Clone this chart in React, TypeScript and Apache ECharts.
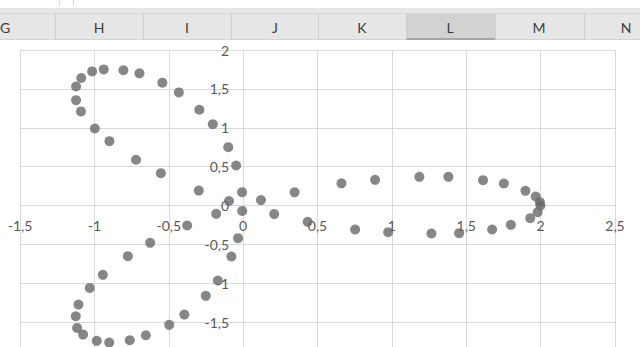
import React, { useEffect, useRef } from "react";
import * as echarts from "echarts";

// ---- data ----
const xValues = [
  -0.007, -0.047, -0.1, -0.204, -0.294, -0.432, -0.543, -0.697, -0.805, -0.937,
  -1.015, -1.088, -1.123, -1.123, -1.09, -0.997, -0.899, -0.72, -0.553, -0.298,
  -0.095, 0.12, 0.346, 0.661, 0.887, 1.185, 1.38, 1.613, 1.753, 1.898,
  1.967, 1.995, 1.999, 1.98, 1.93, 1.8, 1.674, 1.452, 1.266, 0.975,
  0.753, 0.434, 0.209, -0.006, -0.181, -0.376, -0.625, -0.775, -0.943, -1.031,
  -1.107, -1.125, -1.116, -1.076, -0.984, -0.9, -0.762, -0.654, -0.497, -0.395,
  -0.251, -0.17, -0.079, -0.034,
];
const yValues = [
  0.171, 0.515, 0.75, 1.046, 1.232, 1.454, 1.58, 1.7, 1.74, 1.75,
  1.725, 1.64, 1.53, 1.355, 1.21, 0.99, 0.827, 0.588, 0.416, 0.192,
  0.058, 0.07, 0.169, 0.285, 0.33, 0.369, 0.369, 0.326, 0.283, 0.189,
  0.116, 0.043, 0.0, -0.086, -0.163, -0.249, -0.309, -0.356, -0.36, -0.343,
  -0.309, -0.21, -0.11, -0.07, -0.107, -0.257, -0.48, -0.652, -0.892, -1.06,
  -1.274, -1.425, -1.574, -1.66, -1.741, -1.763, -1.733, -1.669, -1.535, -1.403,
  -1.162, -0.965, -0.656, -0.42,
];
const columnLetters = ["G", "H", "I", "J", "K", "L", "M", "N"];
const selectedColumn = "L";
const xAxisRange = [-1.5, 2.5];
const yAxisRange = [-2, 2];
const tickStep = 0.5;

// ---- layout (pixels) ----
const colCenters = [5, 99, 187, 275, 362, 450, 539, 626];
const colSeparators = [55, 143, 231, 318, 406, 495, 584];
const gridLeft = 20;
const gridTop = 50;
const gridWidth = 595;
const gridHeight = 311;

export default function App() {
  const ref = useRef<HTMLDivElement>(null);

  useEffect(() => {
    if (!ref.current) return;
    const chart = echarts.init(ref.current, undefined, { renderer: "svg" });

    const points = xValues.map((x, i) => [x, yValues[i]]);
    const fmt = (v: number) => String(v).replace(".", ",");

    // place each axis where the other axis crosses zero
    const xAxisOffset = -(gridHeight * (0 - yAxisRange[0])) / (yAxisRange[1] - yAxisRange[0]);
    const yAxisOffset = -(gridWidth * (0 - xAxisRange[0])) / (xAxisRange[1] - xAxisRange[0]);

    const selIdx = columnLetters.indexOf(selectedColumn);
    const selLeft = colSeparators[selIdx - 1];
    const selRight = colSeparators[selIdx];

    const graphics: any[] = [
      { type: "rect", shape: { x: 0, y: 8, width: 640, height: 31 }, style: { fill: "#e6e6e6" }, silent: true },
      { type: "line", shape: { x1: 0, y1: 13.5, x2: 640, y2: 13.5 }, style: { stroke: "#d6d6d6", lineWidth: 1 }, silent: true },
      { type: "rect", shape: { x: selLeft, y: 14, width: selRight - selLeft, height: 24 }, style: { fill: "#d2d2d2" }, silent: true },
      { type: "rect", shape: { x: selLeft, y: 38, width: selRight - selLeft, height: 2 }, style: { fill: "#a6a6a6" }, silent: true },
      { type: "line", shape: { x1: 0, y1: 39.5, x2: selLeft, y2: 39.5 }, style: { stroke: "#d4d4d4", lineWidth: 1 }, silent: true },
      { type: "line", shape: { x1: selRight, y1: 39.5, x2: 640, y2: 39.5 }, style: { stroke: "#d4d4d4", lineWidth: 1 }, silent: true },
      { type: "line", shape: { x1: 59.5, y1: 0, x2: 59.5, y2: 6 }, style: { stroke: "#dcdcdc", lineWidth: 1 }, silent: true },
      { type: "line", shape: { x1: 73.5, y1: 0, x2: 73.5, y2: 6 }, style: { stroke: "#dcdcdc", lineWidth: 1 }, silent: true },
    ];
    colSeparators.forEach((sx) => {
      graphics.push({
        type: "line",
        shape: { x1: sx + 0.5, y1: 14, x2: sx + 0.5, y2: 39 },
        style: { stroke: "#cfcfcf", lineWidth: 1 },
        silent: true,
      });
    });
    columnLetters.forEach((letter, i) => {
      graphics.push({
        type: "text",
        x: colCenters[i],
        y: 27,
        style: {
          text: letter,
          fill: "#3b3b3b",
          font: "14px Lato, 'Open Sans', sans-serif",
          align: "center",
          verticalAlign: "middle",
        },
        silent: true,
      });
    });

    chart.setOption({
      animation: false,
      backgroundColor: "#ffffff",
      textStyle: { fontFamily: "Lato, 'Open Sans', sans-serif" },
      graphic: graphics,
      grid: {
        left: gridLeft,
        top: gridTop,
        width: gridWidth,
        height: gridHeight,
        containLabel: false,
        outerBoundsMode: "none",
      },
      xAxis: {
        type: "value",
        position: "bottom",
        offset: xAxisOffset,
        min: xAxisRange[0],
        max: xAxisRange[1],
        interval: tickStep,
        axisLine: { show: true, onZero: false, lineStyle: { color: "#d9d9d9", width: 1 } },
        axisTick: { show: false },
        splitLine: { show: true, lineStyle: { color: "#d9d9d9", width: 1 } },
        axisLabel: {
          color: "#595959",
          fontSize: 14,
          fontFamily: "Lato, 'Open Sans', sans-serif",
          margin: 13,
          formatter: fmt,
          showMinLabel: true,
          showMaxLabel: true,
          hideOverlap: false,
        },
      },
      yAxis: {
        type: "value",
        position: "left",
        offset: yAxisOffset,
        min: yAxisRange[0],
        max: yAxisRange[1],
        interval: tickStep,
        axisLine: { show: true, onZero: false, lineStyle: { color: "#d9d9d9", width: 1 } },
        axisTick: { show: false },
        splitLine: { show: true, lineStyle: { color: "#d9d9d9", width: 1 } },
        axisLabel: {
          color: "#595959",
          fontSize: 14,
          fontFamily: "Lato, 'Open Sans', sans-serif",
          margin: 14,
          formatter: fmt,
          showMinLabel: false,
          showMaxLabel: true,
          hideOverlap: false,
        },
      },
      series: [
        {
          type: "scatter",
          data: points,
          symbol: "circle",
          symbolSize: 10,
          itemStyle: { color: "#686868" },
          clip: false,
        },
      ],
    });

    return () => chart.dispose();
  }, []);

  return (
    <div
      ref={ref}
      style={{ position: "fixed", left: 0, top: 0, width: 640, height: 347, background: "#fff" }}
    />
  );
}
